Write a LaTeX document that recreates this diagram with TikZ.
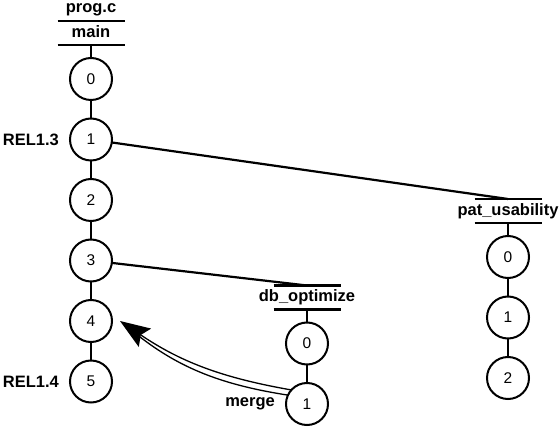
\documentclass[tikz,border=0pt]{standalone}
\usepackage{fontspec}
\setmainfont{Liberation Sans}
\usetikzlibrary{positioning,arrows.meta}

\begin{document}
\begin{tikzpicture}[
    x=1pt, y=-1pt,
    node distance = 18.5pt,
    rev/.style={circle,draw,line width=2pt,minimum size=42pt,inner sep=0pt,outer sep=0pt,font={\fontsize{15.5}{18}\selectfont}},
    branch/.style={minimum width=67pt,minimum height=24pt,text height=12pt,text depth=3.5pt,inner sep=0pt,outer sep=0pt,font={\fontsize{16.5}{19}\selectfont\bfseries}},
    tag/.style={inner sep=0pt,font={\fontsize{16.5}{19}\selectfont\bfseries}},
    link/.style={line width=2.2pt},
    merge/.style={line width=1.3pt},
]
    \useasboundingbox (0,0) rectangle (560,427);

    % Branch headers
    \node[tag] (file) at (91,10) {prog.c};
    \node[branch] (mainhd) at (91,33) {main};
    \node[branch] (pathd) at (508,211) {pat\_usability};
    \node[branch] (dbhd) at (307,297.5) {db\_optimize};

    \foreach \b in {mainhd,pathd,dbhd} {
        \draw[link] ([xshift=-33.5pt]\b.north) -- ([xshift=33.5pt]\b.north);
        \draw[link] ([xshift=-33.5pt]\b.south) -- ([xshift=33.5pt]\b.south);
    }

    % Revisions on main
    \node[rev, below=13pt of mainhd] (m0) {0};
    \node[rev, below=of m0] (m1) {1};
    \node[rev, below=of m1] (m2) {2};
    \node[rev, below=of m2] (m3) {3};
    \node[rev, below=of m3] (m4) {4};
    \node[rev, below=of m4] (m5) {5};

    % Revisions on pat_usability
    \node[rev, below=13pt of pathd] (p0) {0};
    \node[rev, below=of p0] (p1) {1};
    \node[rev, below=of p1] (p2) {2};

    % Revisions on db_optimize
    \node[rev, below=13pt of dbhd] (d0) {0};
    \node[rev, below=of d0] (d1) {1};

    % Labels
    \node[tag, left=11pt of m1] (rel13) {REL1.3};
    \node[tag, left=11pt of m5] (rel14) {REL1.4};
    \node[tag, left=11pt of d1] (mergelbl) {merge};

    % Revision links
    \draw[link] (mainhd) -- (m0) -- (m1) -- (m2) -- (m3) -- (m4) -- (m5);
    \draw[link] (pathd) -- (p0) -- (p1) -- (p2);
    \draw[link] (dbhd) -- (d0) -- (d1);

    % Branch points
    \draw[link] (m1) -- (pathd.north);
    \draw[link] (m3) -- (dbhd.north);

    % Merge back
    \coordinate (mtip) at ([xshift=8pt]m4.east);
    \draw[merge,-{Stealth[length=30pt,width=22pt,inset=5pt]}] (d1.138) to[bend left=12] (mtip);
    \draw[merge,shorten >=18pt] (d1.155) to[bend left=15] (mtip);

\end{tikzpicture}
\end{document}
